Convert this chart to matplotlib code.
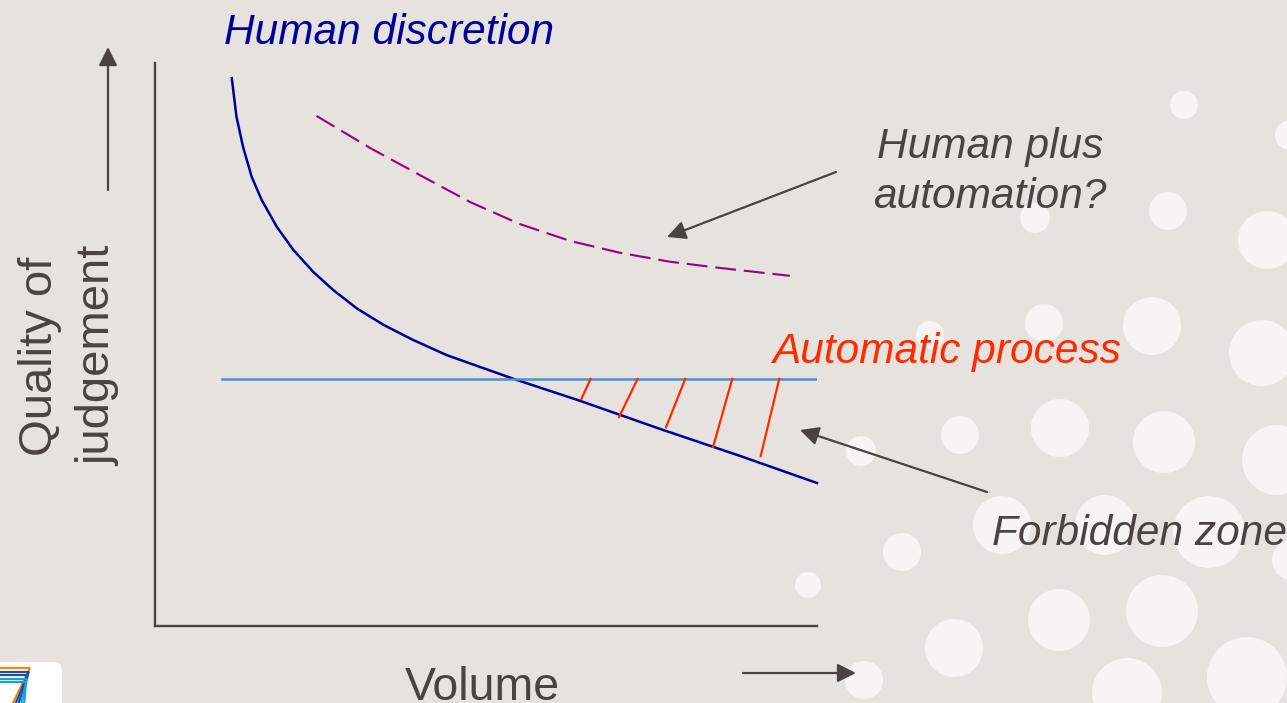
#Import Packages
import matplotlib.pyplot as plt
from matplotlib.patches import Circle, FancyBboxPatch

plt.rcParams['font.family'] = ['Liberation Sans', 'DejaVu Sans']

#Data (chart units: volume 0-10, quality 0-10)
human_x = [1.16, 1.23, 1.33, 1.46, 1.61, 1.84, 2.09, 2.39, 2.69, 3.05, 3.45, 3.90, 4.41,
           4.96, 5.44, 6.42, 7.63, 8.84, 10.0]
human_y = [9.73, 9.05, 8.51, 7.98, 7.57, 7.09, 6.68, 6.29, 5.97, 5.64, 5.35, 5.08, 4.81,
           4.58, 4.38, 4.00, 3.50, 3.02, 2.54]

plus_x = [2.44, 3.25, 4.00, 4.76, 5.51, 6.27, 7.02, 7.78, 8.53, 9.59]
plus_y = [9.06, 8.49, 8.01, 7.53, 7.14, 6.84, 6.63, 6.47, 6.36, 6.22]

auto_x = [1.01, 10.0]
auto_level = 4.39

hatch_top_x = [6.58, 7.29, 8.01, 8.72, 9.43]
hatch_bot_x = [6.44, 7.01, 7.72, 8.43, 9.15]
hatch_bot_y = [4.03, 3.71, 3.53, 3.18, 3.02]

#Background dots (pixel centre x, centre y, radius)
dot_x = [1184, 1290, 1035, 1168, 1267, 1044, 1152, 930, 1262, 861, 960, 1060, 1164, 1277,
         1002, 1105, 1209, 1292, 902, 954, 1059, 1162, 1247, 1127, 864, 808]
dot_y = [105, 135, 218, 211, 240, 323, 326, 335, 353, 451, 435, 428, 442, 460,
         525, 525, 532, 560, 552, 648, 620, 611, 677, 693, 680, 585]
dot_r = [14, 15, 15, 19, 29, 19, 29, 14, 33, 15, 19, 29, 31, 35,
         29, 30, 36, 20, 19, 29, 31, 36, 40, 35, 19, 13]

W, H = 1287, 703
bg_col = '#e6e2de'
dot_col = '#f7f5f4'
dark = '#4a4340'
navy = '#000099'
purple = '#990080'
sky = '#4a90d0'
red = '#ff2a00'

fig = plt.figure(figsize=(W / 100, H / 100), dpi=100)
fig.patch.set_facecolor(bg_col)

#Background layer in pixel coordinates
bg = fig.add_axes([0, 0, 1, 1])
bg.set_xlim(0, W)
bg.set_ylim(H, 0)
bg.axis('off')
for cx, cy, r in zip(dot_x, dot_y, dot_r):
    bg.add_patch(Circle((cx, cy), r, color=dot_col, lw=0, zorder=0))

#Logo box (bottom-left)
bg.add_patch(FancyBboxPatch((-10, 662), 72, 60, boxstyle='round,pad=0,rounding_size=8',
                            fc='white', ec='none', zorder=1))
for k, col in enumerate(['#f08a00', '#1f4e9e', '#1f4e9e', '#1a9de0', '#1a9de0']):
    y0 = 668 + 3.5 * k
    bg.plot([0, 30 - k], [y0, y0], color=col, lw=1.6, zorder=2, solid_capstyle='butt')
    bg.plot([30 - k, 12 + 3 * k], [y0, 705], color=col, lw=1.6, zorder=2, solid_capstyle='butt')

#Chart axes
ax = fig.add_axes([155 / W, (H - 626) / H, (817 - 155) / W, (626 - 63) / H])
ax.set_xlim(0, 10)
ax.set_ylim(0, 10)
ax.patch.set_alpha(0)
for s in ['top', 'right']:
    ax.spines[s].set_visible(False)
for s in ['left', 'bottom']:
    ax.spines[s].set_color(dark)
    ax.spines[s].set_linewidth(1.7)
ax.set_xticks([])
ax.set_yticks([])

ax.plot(human_x, human_y, color=navy, lw=1.8, clip_on=False)
ax.plot(plus_x, plus_y, color=purple, lw=1.5, linestyle=(0, (10, 3.8)))
ax.plot(auto_x, [auto_level, auto_level], color=sky, lw=1.8)
for xt, xb, yb in zip(hatch_top_x, hatch_bot_x, hatch_bot_y):
    ax.plot([xt, xb], [auto_level, yb], color=red, lw=1.6)

#Texts
fs = 30.5
bg.text(224, 44, 'Human discretion', color=navy, fontsize=fs, style='italic', va='baseline', ha='left')
bg.text(990, 158, 'Human plus', color=dark, fontsize=fs, style='italic', va='baseline', ha='center')
bg.text(990, 208, 'automation?', color=dark, fontsize=fs, style='italic', va='baseline', ha='center')
bg.text(772, 363, 'Automatic process', color=red, fontsize=fs, style='italic', va='baseline', ha='left')
bg.text(992, 545, 'Forbidden zone', color=dark, fontsize=fs, style='italic', va='baseline', ha='left')
bg.text(52, 356, 'Quality of', color=dark, fontsize=34, rotation=90, rotation_mode='anchor',
        va='baseline', ha='center')
bg.text(110, 356, 'judgement', color=dark, fontsize=34, rotation=90, rotation_mode='anchor',
        va='baseline', ha='center')
bg.text(482, 700, 'Volume', color=dark, fontsize=33.5, va='baseline', ha='center')

#Arrows
arrow = dict(arrowstyle='-|>', color=dark, lw=1.6, mutation_scale=28, shrinkA=0, shrinkB=0)
bg.annotate('', xy=(667, 237), xytext=(836, 172), arrowprops=arrow)
bg.annotate('', xy=(800, 430), xytext=(987, 492), arrowprops=arrow)
bg.annotate('', xy=(108, 47), xytext=(108, 190), arrowprops=arrow)
bg.annotate('', xy=(856, 673), xytext=(743, 673), arrowprops=arrow)

plt.savefig('out.png', dpi=100, facecolor=fig.get_facecolor())
